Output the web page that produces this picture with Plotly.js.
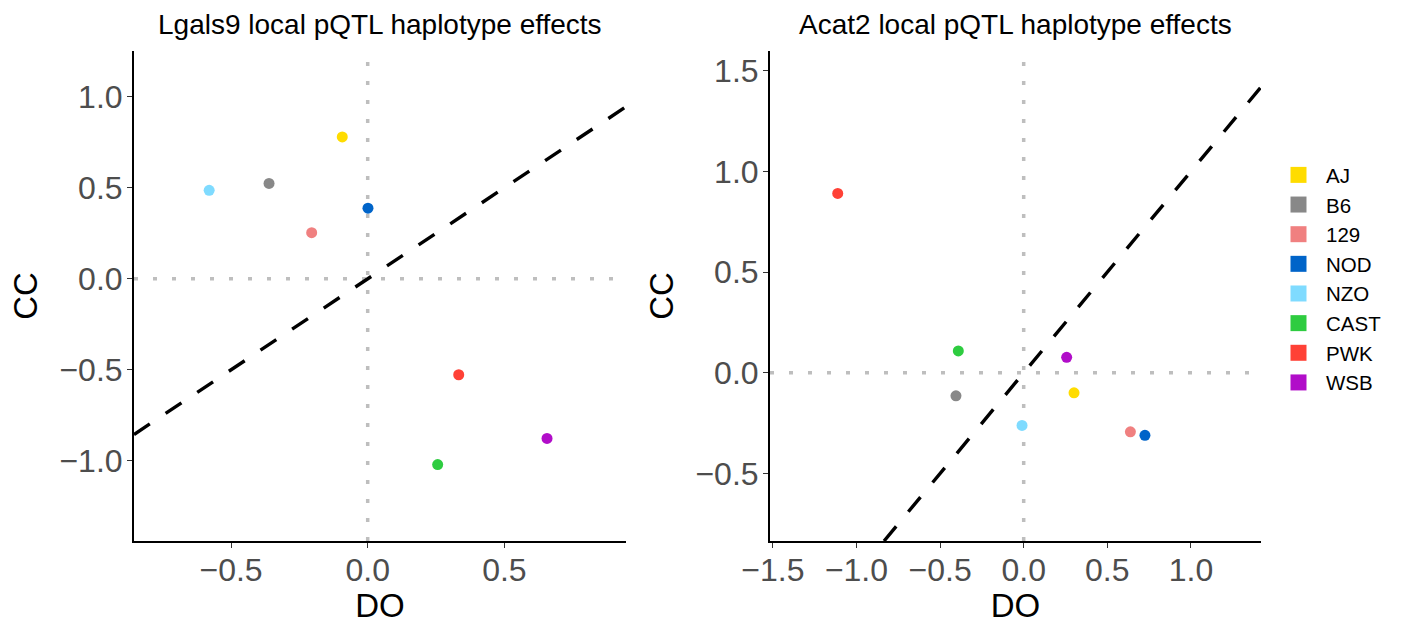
<!DOCTYPE html>
<html>
<head>
<meta charset="utf-8">
<script src="https://cdn.plot.ly/plotly-3.0.1.min.js"></script>
<style>html,body{margin:0;padding:0;background:#fff;}#chart{width:1408px;height:624px;}</style>
</head>
<body>
<div id="chart"></div>
<script>
// ---- data ----
var strains = ["AJ", "B6", "129", "NOD", "NZO", "CAST", "PWK", "WSB"];
var strainColors = ["#FFDC00", "#888888", "#F08080", "#0064C9", "#7FDBFF", "#2ECC40", "#FF4136", "#B10DC9"];

var lgals9Title = "Lgals9 local pQTL haplotype effects";
var lgals9DO = [-0.093, -0.361, -0.205, 0.001, -0.580, 0.256, 0.333, 0.656];
var lgals9CC = [0.779, 0.524, 0.253, 0.388, 0.486, -1.020, -0.527, -0.877];

var acat2Title = "Acat2 local pQTL haplotype effects";
var acat2DO = [0.301, -0.405, 0.638, 0.725, -0.010, -0.391, -1.112, 0.257];
var acat2CC = [-0.099, -0.114, -0.293, -0.310, -0.261, 0.109, 0.891, 0.077];

var lgals9XRange = [-0.855, 0.945];
var lgals9YRange = [-1.44, 1.251];
var acat2XRange = [-1.517, 1.419];
var acat2YRange = [-0.835, 1.598];

// ---- build ----
var FONT = "Liberation Sans, Arial, sans-serif";
var traces = [];

function panelTraces(xv, yv, xa, ya) {
  traces.push({
    type: "scatter", mode: "markers",
    x: xv, y: yv, xaxis: xa, yaxis: ya,
    text: strains, hoverinfo: "text+x+y",
    marker: {size: 11, color: strainColors},
    showlegend: false
  });
}
panelTraces(lgals9DO, lgals9CC, "x", "y");
panelTraces(acat2DO, acat2CC, "x2", "y2");

// legend entries (squares)
strains.forEach(function(s, i){
  traces.push({
    type: "scatter", mode: "markers", x: [null], y: [null],
    xaxis: "x", yaxis: "y",
    name: s,
    marker: {symbol: "square", size: 16, color: strainColors[i]},
    showlegend: true, hoverinfo: "skip"
  });
});

function identityShape(xr, yr, xref, yref) {
  var lo = Math.max(xr[0], yr[0]);
  var hi = Math.min(xr[1], yr[1]);
  return {type: "line", xref: xref, yref: yref, x0: lo, y0: lo, x1: hi, y1: hi,
          line: {color: "#000", width: 3.4, dash: "19px,19px"}, layer: "above"};
}
function zeroShapes(xref, yref) {
  return [
    {type: "line", xref: xref, yref: yref + " domain", x0: 0, x1: 0, y0: 0, y1: 1,
     line: {color: "#BEBEBE", width: 3.5, dash: "4px,15px"}, layer: "below"},
    {type: "line", xref: xref + " domain", yref: yref, x0: 0, x1: 1, y0: 0, y1: 0,
     line: {color: "#BEBEBE", width: 3.5, dash: "4px,15px"}, layer: "below"}
  ];
}

var shapes = [].concat(
  zeroShapes("x", "y"), zeroShapes("x2", "y2"),
  [identityShape(lgals9XRange, lgals9YRange, "x", "y"),
   identityShape(acat2XRange, acat2YRange, "x2", "y2")]
);

function xAxis(range, domain, anchor) {
  return {
    range: range, domain: domain, anchor: anchor,
    showgrid: false, zeroline: false,
    showline: true, linecolor: "#000", linewidth: 2,
    ticks: "outside", ticklen: 5, tickwidth: 1.2, tickcolor: "#333",
    dtick: 0.5, tick0: 0, tickformat: ".1f",
    ticklabelstandoff: -5,
    tickfont: {family: FONT, size: 32, color: "#4D4D4D"},
    title: {text: "DO", font: {family: FONT, size: 33, color: "#000"}, standoff: 4},
    fixedrange: true
  };
}
function yAxis(range, anchor) {
  return {
    range: range, domain: [0, 1], anchor: anchor,
    showgrid: false, zeroline: false,
    showline: true, linecolor: "#000", linewidth: 2,
    ticks: "outside", ticklen: 5, tickwidth: 1.2, tickcolor: "#333",
    dtick: 0.5, tick0: 0, tickformat: ".1f",
    ticklabelstandoff: -2,
    tickfont: {family: FONT, size: 32, color: "#4D4D4D"},
    title: {text: "CC", font: {family: FONT, size: 33, color: "#000"}, standoff: 12},
    fixedrange: true
  };
}

var L = 100, R = 100, T = 51, B = 83.3;
var W = 1408 - L - R;
function dom(a, b){ return [(a - L) / W, (b - L) / W]; }

var layout = {
  width: 1408, height: 624,
  margin: {l: L, r: R, t: T, b: B, pad: 0},
  paper_bgcolor: "#fff", plot_bgcolor: "#fff",
  font: {family: FONT},
  showlegend: true,
  legend: {
    x: (1271 - L) / W, xref: "paper", xanchor: "left",
    y: 1 + (T - 155) / (624 - T - B), yanchor: "top",
    font: {family: FONT, size: 20.5, color: "#000"},
    itemwidth: 45,
    bgcolor: "rgba(0,0,0,0)", borderwidth: 0, itemclick: false, itemdoubleclick: false
  },
  xaxis: xAxis(lgals9XRange, dom(134, 626), "y"),
  yaxis: yAxis(lgals9YRange, "x"),
  xaxis2: xAxis(acat2XRange, dom(770, 1261), "y2"),
  yaxis2: yAxis(acat2YRange, "x2"),
  shapes: shapes,
  annotations: [
    {text: lgals9Title, xref: "x domain", yref: "paper", x: 0.5, y: 1 + (T - 25) / (624 - T - B),
     xanchor: "center", yanchor: "middle", showarrow: false,
     font: {family: FONT, size: 28, color: "#000"}},
    {text: acat2Title, xref: "x2 domain", yref: "paper", x: 0.5, y: 1 + (T - 25) / (624 - T - B),
     xanchor: "center", yanchor: "middle", showarrow: false,
     font: {family: FONT, size: 28, color: "#000"}}
  ]
};

Plotly.newPlot("chart", traces, layout, {displayModeBar: false});
</script>
</body>
</html>
